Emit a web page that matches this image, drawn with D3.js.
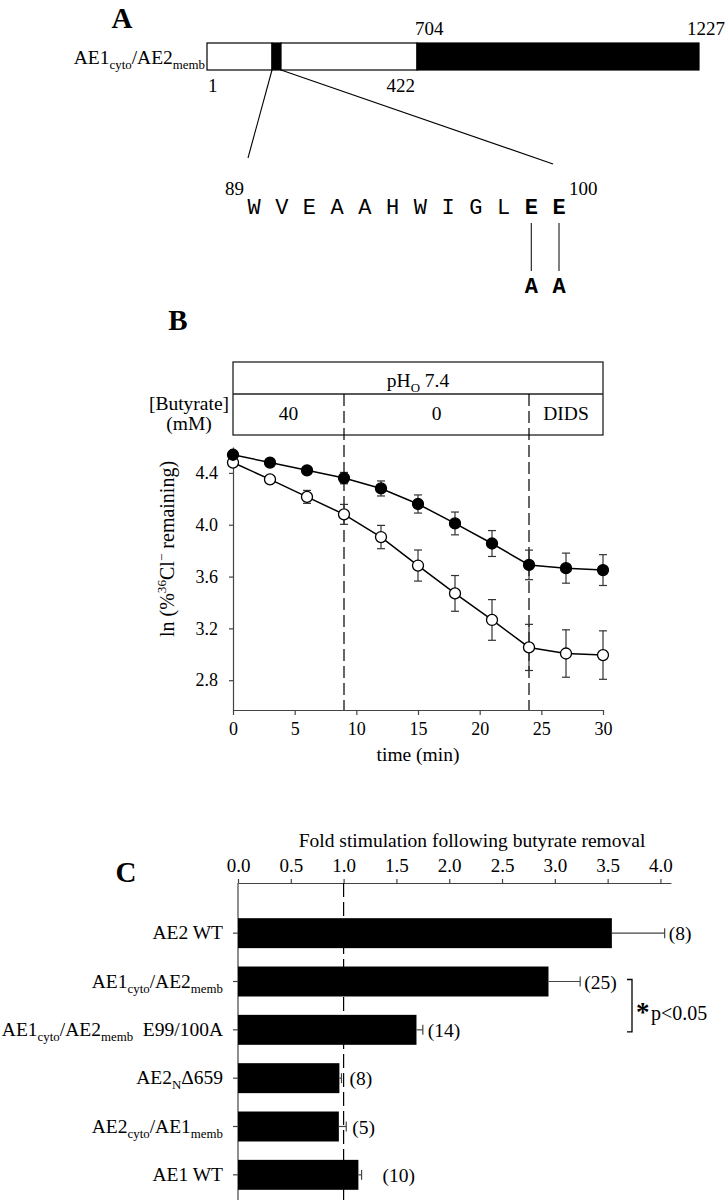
<!DOCTYPE html>
<html><head><meta charset="utf-8">
<script src="https://cdn.jsdelivr.net/npm/d3@7/dist/d3.min.js"></script>
<style>
body{margin:0;background:#fff}
svg{display:block}
text{font-family:"Liberation Serif","Times New Roman",serif;fill:#000}
</style>
</head><body>
<svg id="c" width="728" height="1200"></svg>
<script>
// ---------------- DATA ----------------
// Panel A: chimera schematic (drawn not to scale, lengths are schematic units)
const aSegNames = ["AE1 1-88", "AE1 89-100", "AE1 101-422", "AE2 704-1227"];
const aSegUnits = [65, 9, 136, 282];
const aSegIsDark = [false, true, false, true];
const aTopLabels = ["704", "1227"];
const aBottomLabels = ["1", "422"];
const seqResidues = [89, 90, 91, 92, 93, 94, 95, 96, 97, 98, 99, 100];
const seqLetters = ["W", "V", "E", "A", "A", "H", "W", "I", "G", "L", "E", "E"];
const mutResidues = [99, 100];
const mutLetters = ["A", "A"];

// Panel B: time course
const timeMin = [0, 3, 6, 9, 12, 15, 18, 21, 24, 27, 30];
const filledMean = [4.54, 4.48, 4.42, 4.36, 4.28, 4.16, 4.01, 3.855, 3.69, 3.665, 3.65];
const filledErr  = [0.02, 0.015, 0.02, 0.044, 0.058, 0.07, 0.088, 0.10, 0.114, 0.116, 0.119];
const openMean   = [4.48, 4.35, 4.215, 4.08, 3.905, 3.685, 3.47, 3.265, 3.053, 3.006, 2.994];
const openErr    = [0.01, 0.015, 0.05, 0.077, 0.09, 0.12, 0.138, 0.157, 0.178, 0.183, 0.187];
const periodLabels = ["40", "0", "DIDS"];
const periodStart = [0, 9, 24];
const periodEnd = [9, 24, 30];
const xTicksB = [0, 5, 10, 15, 20, 25, 30];
const yTicksB = [2.8, 3.2, 3.6, 4.0, 4.4];

// Panel C: fold stimulation
const constructs = ["AE2 WT", "AE1cyto/AE2memb", "AE1cyto/AE2memb E99/100A", "AE2NΔ659", "AE2cyto/AE1memb", "AE1 WT"];
const constructParts = [
  [["AE2 WT","n"]],
  [["AE1","n"],["cyto","sub"],["/AE2","n"],["memb","sub"]],
  [["AE1","n"],["cyto","sub"],["/AE2","n"],["memb","sub"],["\u00a0 E99/100A","n"]],
  [["AE2","n"],["N","sub"],["Δ659","n"]],
  [["AE2","n"],["cyto","sub"],["/AE1","n"],["memb","sub"]],
  [["AE1 WT","n"]]
];
const foldMean = [3.54, 2.94, 1.69, 0.96, 0.955, 1.14];
const foldSem  = [0.50, 0.30, 0.06, 0.02, 0.07, 0.03];
const nCells   = [8, 25, 14, 8, 5, 10];
const xTicksC  = [0, 0.5, 1.0, 1.5, 2.0, 2.5, 3.0, 3.5, 4.0];

// ---------------- DRAWING ----------------
const svg = d3.select("#c");
const MONO = '"Liberation Mono","Courier New",monospace';
const AXC = "#444";

function rich(sel, parts, size) {
  const shift = {n: 0, sub: 5, sup: -8};
  let prev = "n";
  parts.forEach(([t, m]) => {
    const ts = sel.append("tspan").text(t).attr("dy", shift[m] - shift[prev]);
    if (m !== "n") ts.attr("font-size", size * 0.66);
    prev = m;
  });
  return sel;
}
function panelLabel(txt, x, y) {
  svg.append("text").attr("x", x).attr("y", y).attr("text-anchor", "middle")
    .attr("font-size", 29).attr("font-weight", "bold").text(txt);
}

// ===== Panel A =====
panelLabel("A", 122, 28);
const aCum = [0, ...Array.from(d3.cumsum(aSegUnits))];
const xA = d3.scaleLinear().domain([0, d3.sum(aSegUnits)]).range([207, 699]);
const aTop = 43, aBot = 70;
const gA = svg.append("g");
gA.selectAll("rect.seg").data(aSegNames).join("rect")
  .attr("x", (d, i) => xA(aCum[i])).attr("width", (d, i) => xA(aCum[i + 1]) - xA(aCum[i]))
  .attr("y", aTop).attr("height", aBot - aTop)
  .attr("fill", (d, i) => aSegIsDark[i] ? "#000" : "#fff")
  .attr("stroke", "#000").attr("stroke-width", 1.2);
rich(gA.append("text").attr("x", 205).attr("y", 64).attr("text-anchor", "end").attr("font-size", 19.5),
  [["AE1","n"],["cyto","sub"],["/AE2","n"],["memb","sub"]], 19.5);
// residue numbers
gA.append("text").attr("x", xA(aCum[3]) - 2).attr("y", 35).attr("font-size", 19).text(aTopLabels[0]);
gA.append("text").attr("x", xA(aCum[4]) - 12).attr("y", 35).attr("font-size", 19).text(aTopLabels[1]);
gA.append("text").attr("x", xA(aCum[0]) + 1).attr("y", 92).attr("font-size", 19).text(aBottomLabels[0]);
gA.append("text").attr("x", xA(aCum[3]) - 2).attr("y", 92).attr("text-anchor", "end").attr("font-size", 19).text(aBottomLabels[1]);
// sequence
const xSeq = d3.scalePoint().domain(seqResidues).range([254, 559]);
gA.append("line").attr("x1", xA(aCum[1])).attr("y1", aBot).attr("x2", xSeq(89) - 6).attr("y2", 158)
  .attr("stroke", "#000").attr("stroke-width", 1.1);
gA.append("line").attr("x1", xA(aCum[2])).attr("y1", aBot).attr("x2", xSeq(100) - 6).attr("y2", 164)
  .attr("stroke", "#000").attr("stroke-width", 1.1);
gA.append("text").attr("x", xSeq(89) - 10).attr("y", 195).attr("text-anchor", "end").attr("font-size", 19).text(seqResidues[0]);
gA.append("text").attr("x", xSeq(100) + 10).attr("y", 195).attr("font-size", 19).text(seqResidues[seqResidues.length - 1]);
gA.selectAll("text.seq").data(seqResidues).join("text").attr("class", "seq")
  .attr("x", d => xSeq(d)).attr("y", 214).attr("text-anchor", "middle")
  .style("font-family", MONO).attr("font-size", 22)
  .attr("font-weight", d => mutResidues.includes(d) ? "bold" : "normal")
  .text((d, i) => seqLetters[i]);
gA.selectAll("line.mut").data(mutResidues).join("line").attr("class", "mut")
  .attr("x1", d => xSeq(d)).attr("x2", d => xSeq(d)).attr("y1", 223).attr("y2", 271)
  .attr("stroke", "#000").attr("stroke-width", 1);
gA.selectAll("text.mut").data(mutResidues).join("text").attr("class", "mut")
  .attr("x", d => xSeq(d)).attr("y", 293).attr("text-anchor", "middle")
  .style("font-family", MONO).attr("font-size", 22).attr("font-weight", "bold")
  .text((d, i) => mutLetters[i]);

// ===== Panel B =====
panelLabel("B", 178, 330);
const xB = d3.scaleLinear().domain([0, 30]).range([233, 603]);
const yB = d3.scaleLinear().domain([2.57, 4.6]).range([710, 447]);
const gB = svg.append("g");
const boxTop = 362, boxMid = 394, boxBot = 435;
gB.append("rect").attr("x", xB(0)).attr("y", boxTop).attr("width", xB(30) - xB(0)).attr("height", boxBot - boxTop)
  .attr("fill", "none").attr("stroke", "#222").attr("stroke-width", 1.3);
gB.append("line").attr("x1", xB(0)).attr("x2", xB(30)).attr("y1", boxMid).attr("y2", boxMid)
  .attr("stroke", "#222").attr("stroke-width", 1.3);
rich(gB.append("text").attr("x", xB(15)).attr("y", 387).attr("text-anchor", "middle").attr("font-size", 19.5),
  [["pH","n"],["O","sub"],[" 7.4","n"]], 19.5);
gB.selectAll("text.per").data(periodLabels).join("text").attr("class", "per")
  .attr("x", (d, i) => xB((periodStart[i] + periodEnd[i]) / 2)).attr("y", 420)
  .attr("text-anchor", "middle").attr("font-size", 19.5).text(d => d);
gB.append("text").attr("x", 189).attr("y", 410).attr("text-anchor", "middle").attr("font-size", 19.5).text("[Butyrate]");
gB.append("text").attr("x", 189).attr("y", 430).attr("text-anchor", "middle").attr("font-size", 19.5).text("(mM)");
// dashed period boundaries
gB.selectAll("line.dash").data(periodStart.slice(1)).join("line").attr("class", "dash")
  .attr("x1", d => xB(d)).attr("x2", d => xB(d)).attr("y1", boxMid).attr("y2", yB(2.57))
  .attr("stroke", "#000").attr("stroke-width", 1.2).attr("stroke-dasharray", "12,5");
// axes
const axB = gB.append("g").attr("transform", `translate(0,${yB(2.57)})`)
  .call(d3.axisBottom(xB).tickValues(xTicksB).tickSize(5).tickSizeOuter(0).tickPadding(7));
const ayB = gB.append("g").attr("transform", `translate(${xB(0)},0)`)
  .call(d3.axisLeft(yB).tickValues(yTicksB).tickSize(4).tickSizeOuter(0).tickPadding(11).tickFormat(d3.format(".1f")));
[axB, ayB].forEach(a => {
  a.selectAll("path,line").attr("stroke", AXC).attr("stroke-width", 1.2);
  a.selectAll("text").attr("font-size", 18).attr("font-family", '"Liberation Serif",serif').attr("fill", "#000");
});
gB.append("text").attr("x", xB(15)).attr("y", 761).attr("text-anchor", "middle").attr("font-size", 19.5).text("time (min)");
rich(gB.append("text").attr("transform", `translate(174,549) rotate(-90)`).attr("text-anchor", "middle").attr("font-size", 20),
  [["ln (%","n"],["36","sup"],["Cl","n"],["\u2212","sup"],[" remaining)","n"]], 20);
// series
const seriesB = [
  {mean: openMean, err: openErr, fill: "#fff"},
  {mean: filledMean, err: filledErr, fill: "#000"}
];
const lineB = d3.line().x((d, i) => xB(timeMin[i])).y(d => yB(d));
seriesB.forEach(s => {
  const g = gB.append("g");
  timeMin.forEach((t, i) => {
    const x = xB(t), y1 = yB(s.mean[i] + s.err[i]), y2 = yB(s.mean[i] - s.err[i]);
    g.append("line").attr("x1", x).attr("x2", x).attr("y1", y1).attr("y2", y2).attr("stroke", "#333").attr("stroke-width", 1.2);
    [y1, y2].forEach(yy => g.append("line").attr("x1", x - 4).attr("x2", x + 4).attr("y1", yy).attr("y2", yy)
      .attr("stroke", "#333").attr("stroke-width", 1.2));
  });
});
seriesB.forEach(s => {
  gB.append("path").attr("d", lineB(s.mean)).attr("fill", "none").attr("stroke", "#000").attr("stroke-width", 1.5);
});
seriesB.forEach(s => {
  gB.selectAll(null).data(s.mean).join("circle")
    .attr("cx", (d, i) => xB(timeMin[i])).attr("cy", d => yB(d)).attr("r", 5.5)
    .attr("fill", s.fill).attr("stroke", "#000").attr("stroke-width", 1.3);
});

// ===== Panel C =====
panelLabel("C", 126, 882);
const xC = d3.scaleLinear().domain([0, 4.1]).range([238, 671]);
const yC = d3.scaleBand().domain(constructs).range([909, 1199]).paddingInner(0.38).paddingOuter(0.19);
const gC = svg.append("g");
const axTopY = 883;
gC.append("text").attr("x", 472).attr("y", 847).attr("text-anchor", "middle").attr("font-size", 19.5)
  .text("Fold stimulation following butyrate removal");
const axC = gC.append("g").attr("transform", `translate(0,${axTopY})`)
  .call(d3.axisTop(xC).tickValues(xTicksC).tickSize(4).tickSizeOuter(0).tickPadding(7).tickFormat(d3.format(".1f")));
axC.selectAll("path,line").attr("stroke", AXC).attr("stroke-width", 1.2);
axC.selectAll("text").attr("font-size", 19).attr("font-family", '"Liberation Serif",serif').attr("fill", "#000");
// left axis line and ticks
gC.append("line").attr("x1", xC(0)).attr("x2", xC(0)).attr("y1", axTopY).attr("y2", 1200).attr("stroke", AXC).attr("stroke-width", 1.2);
gC.selectAll("line.ytick").data(constructs).join("line").attr("class", "ytick")
  .attr("x1", xC(0) - 5).attr("x2", xC(0)).attr("y1", d => yC(d) + yC.bandwidth() / 2).attr("y2", d => yC(d) + yC.bandwidth() / 2)
  .attr("stroke", AXC).attr("stroke-width", 1.2);
// reference line at 1.0
gC.append("line").attr("x1", xC(1)).attr("x2", xC(1)).attr("y1", axTopY).attr("y2", 1200)
  .attr("stroke", "#000").attr("stroke-width", 1.2).attr("stroke-dasharray", "14,5");
// bars
gC.selectAll("rect.bar").data(constructs).join("rect").attr("class", "bar")
  .attr("x", xC(0)).attr("y", d => yC(d)).attr("height", yC.bandwidth())
  .attr("width", (d, i) => xC(foldMean[i]) - xC(0)).attr("fill", "#000");
// error bars
constructs.forEach((c, i) => {
  const cy = yC(c) + yC.bandwidth() / 2;
  const xe = xC(foldMean[i] + foldSem[i]);
  gC.append("line").attr("x1", xC(foldMean[i])).attr("x2", xe).attr("y1", cy).attr("y2", cy).attr("stroke", "#444").attr("stroke-width", 1.2);
  gC.append("line").attr("x1", xe).attr("x2", xe).attr("y1", cy - 5).attr("y2", cy + 5).attr("stroke", "#444").attr("stroke-width", 1.2);
});
// n labels
const nGap = [4, 4, 5, 8, 6, 21];
gC.selectAll("text.n").data(nCells).join("text").attr("class", "n")
  .attr("x", (d, i) => xC(foldMean[i] + foldSem[i]) + nGap[i])
  .attr("y", (d, i) => yC(constructs[i]) + yC.bandwidth() / 2 + 7).attr("font-size", 19.5)
  .text(d => `(${d})`);
// category labels
constructs.forEach((c, i) => {
  rich(gC.append("text").attr("x", 223).attr("y", yC(c) + yC.bandwidth() / 2 + 6).attr("text-anchor", "end").attr("font-size", 19.5),
    constructParts[i], 19.5);
});
// significance bracket between rows 2 and 3
const b1 = yC(constructs[1]) + yC.bandwidth() / 2 - 2, b2 = yC(constructs[2]) + yC.bandwidth() / 2 + 2;
gC.append("path").attr("d", `M627,${b1}H632V${b2}H627`).attr("fill", "none").attr("stroke", "#000").attr("stroke-width", 1.3);
gC.append("text").attr("x", 636).attr("y", 1021).attr("font-size", 27).attr("font-weight", "bold").text("*");
gC.append("text").attr("x", 651).attr("y", 1020).attr("font-size", 20).text("p<0.05");
</script>
</body></html>
